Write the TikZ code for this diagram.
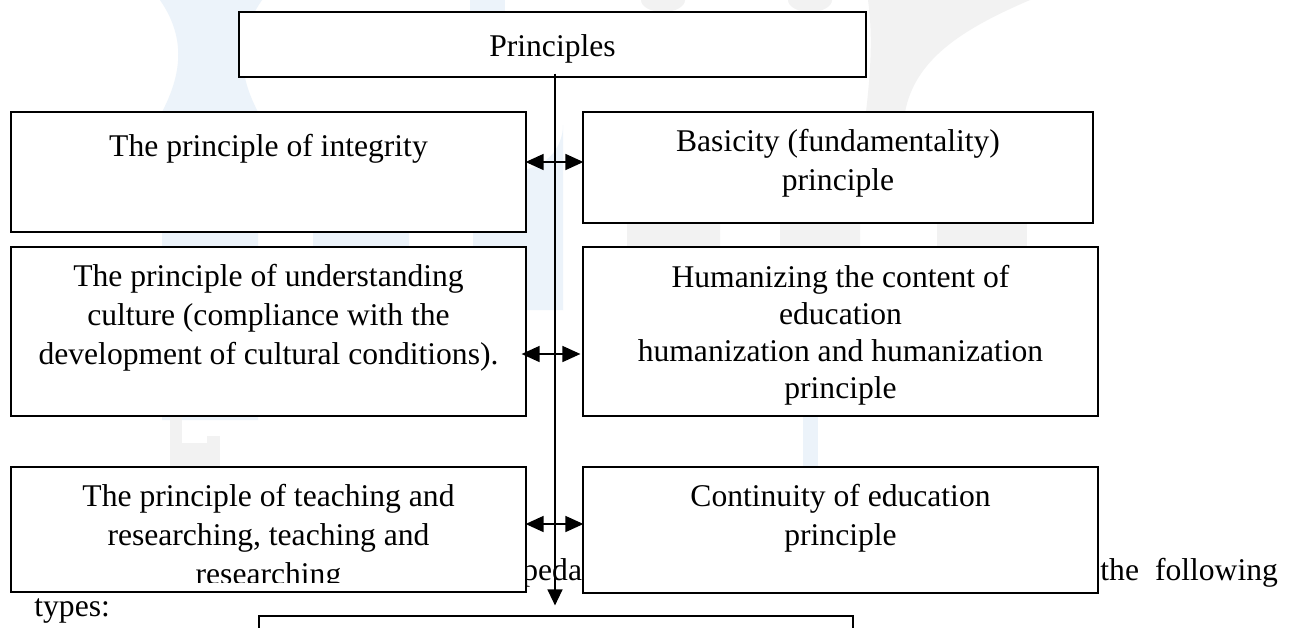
\documentclass[tikz,border=0pt]{standalone}
\usepackage{fontspec}
\setmainfont{Liberation Serif}
\usetikzlibrary{arrows.meta,fit}

\definecolor{wmblue}{RGB}{236,243,250}
\definecolor{wmgrey}{RGB}{242,242,242}
\newcommand{\boxfont}{\fontsize{15.8pt}{19.5pt}\selectfont}
\newcommand{\boxfonttight}{\fontsize{15.8pt}{18.5pt}\selectfont}

\begin{document}
\begin{tikzpicture}[x=0.5pt,y=-0.5pt,
  boxst/.style={draw=black, line width=0.6pt, fill=white, inner sep=0pt},
  boxtext/.style={anchor=north, inner sep=0pt, align=center, font=\boxfont,
    execute at begin node=\strut},
  pagetext/.style={anchor=base west, inner sep=0pt, font=\boxfont},
  flow/.style={draw=black, line width=0.7pt, -{Triangle[length=8pt,width=7.5pt]}},
  link/.style={draw=black, line width=0.8pt,
    {Triangle[length=9pt,width=8pt]}-{Triangle[length=9pt,width=8pt]}}
]
\useasboundingbox (0,0) rectangle (1295,627);
\fill[white] (0,0) rectangle (1295,627);

% faint logo in the page background
\fill[wmblue] (160,0) -- (262,0) .. controls (238,35) and (236,70) .. (258,112)
  -- (258,420) -- (162,420) -- (162,112) .. controls (184,70) and (184,35) .. (160,0) -- cycle;
\fill[wmblue] (313,130) arc (180:0:48) -- (409,260) -- (313,260) -- cycle;
\fill[wmblue] (473,125) arc (180:0:45) -- (563,310) -- (473,310) -- cycle;
\fill[wmblue] (470,0) rectangle (505,12);
\fill[wmblue] (803,416) rectangle (818,467);
\fill[wmgrey] (627,124) arc (180:0:46.5) -- (720,260) -- (627,260) -- cycle;
\fill[wmgrey] (780,118) arc (180:0:40) -- (860,260) -- (780,260) -- cycle;
\fill[wmgrey] (663,0) ellipse (22 and 12);
\fill[wmgrey] (810,0) ellipse (22 and 12);
\fill[wmgrey] (868,0) -- (1030,0) .. controls (960,30) and (915,60) .. (905,112)
  -- (866,112) .. controls (872,60) and (872,30) .. (868,0) -- cycle;
\fill[wmgrey] (937,223) rectangle (1027,247);
\fill[wmgrey] (170,416) rectangle (182,466);
\fill[wmgrey] (170,443) rectangle (220,466);
\fill[wmgrey] (207,436) rectangle (220,466);

% running text of the page, partly hidden by the boxes
\node[pagetext] (pg1) at (522,580) {peda};
\node[pagetext] (pg2) at (1100,580) {the\hspace{8pt}following};
\node[pagetext] (pg3) at (34,616) {types:};

% boxes
\node[boxst, fit={(239,12) (866,77)}] (P) {};
\node[boxst, fit={(11,112) (526,232)}] (L1) {};
\node[boxst, fit={(583,112) (1093,223)}] (R1) {};
\node[boxst, fit={(11,247) (526,416)}] (L2) {};
\node[boxst, fit={(583,247) (1098,416)}] (R2) {};
\node[boxst, fit={(11,467) (526,592)}] (L3) {};
\node[boxst, fit={(583,467) (1098,593)}] (R3) {};
\node[boxst, fit={(259,616) (853,660)}] (B) {};

% box texts
\node[boxtext] (tP) at ([yshift=-8.8pt]P.north) {Principles};
\node[boxtext] (tL1) at ([yshift=-8.8pt]L1.north) {The principle of integrity};
\node[boxtext] (tR1) at ([yshift=-8.8pt]R1.north) {Basicity (fundamentality)\\principle};
\node[boxtext] (tL2) at ([yshift=-8.8pt]L2.north)
  {The principle of understanding\\culture (compliance with the\\development of cultural conditions).};
\node[boxtext, font=\boxfonttight] (tR2) at ([yshift=-9.4pt]R2.north)
  {Humanizing the content of\\education\\humanization and humanization\\principle};
\begin{scope}
  \clip (11,467) rectangle (526,582);
  \node[boxtext] (tL3) at ([yshift=-8.8pt]L3.north)
    {The principle of teaching and\\researching, teaching and\\researching};
\end{scope}
\node[boxtext] (tR3) at ([yshift=-8.8pt]R3.north) {Continuity of education\\principle};

% connectors
\coordinate (vtop) at ([xshift=1.25pt,yshift=2pt]P.south);
\coordinate (vtip) at ([xshift=-0.5pt,yshift=5pt]B.north);
\draw[flow] (vtop) -- (vtip);
\draw[link] ([xshift=-0.5pt,yshift=5pt]L1.east) -- ([xshift=0.5pt,yshift=2.75pt]R1.west);
\draw[link] ([xshift=-2.5pt,yshift=-11.25pt]L2.east) -- ([xshift=-1pt,yshift=-11.25pt]R2.west);
\draw[link] ([xshift=-0.5pt,yshift=2.75pt]L3.east) -- ([xshift=0.5pt,yshift=3pt]R3.west);
\end{tikzpicture}
\end{document}
